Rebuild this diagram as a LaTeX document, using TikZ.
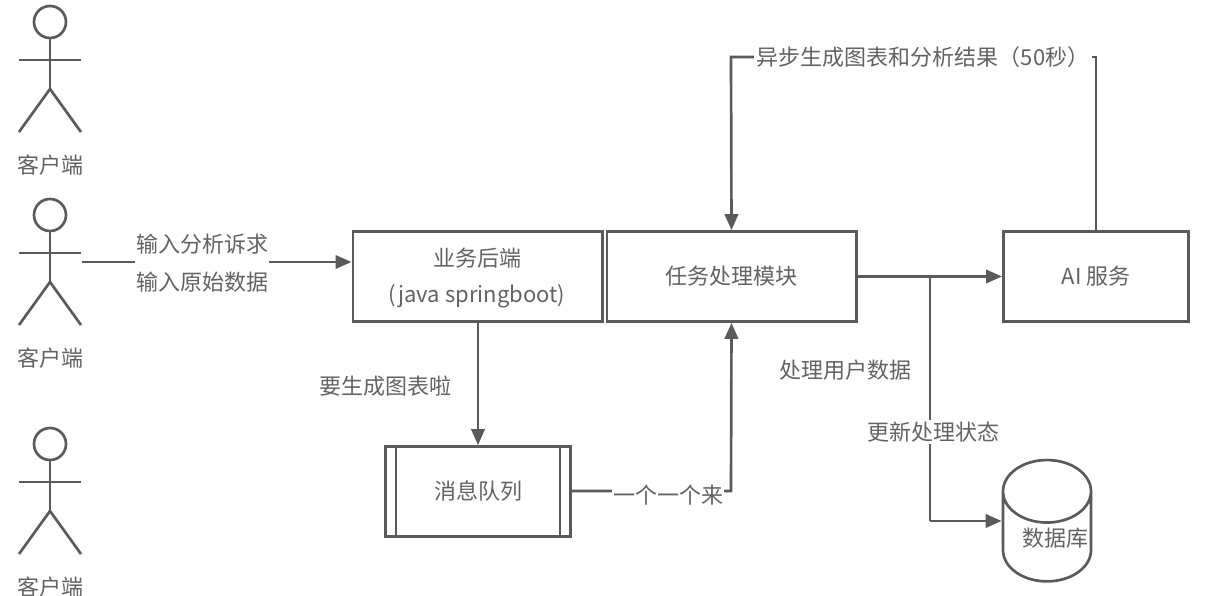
\documentclass[tikz,border=0pt]{standalone}
\usepackage{fontspec}
\setmainfont{Noto Sans CJK SC}
\usetikzlibrary{positioning,shapes.geometric,arrows.meta}
\definecolor{linegray}{HTML}{5A5A5A}
\definecolor{textgray}{HTML}{626262}
\tikzset{
  lbl/.style={font=\fontsize{16.5pt}{20pt}\selectfont,text=textgray,inner sep=1pt,align=center},
  box/.style={lbl,draw=linegray,line width=2pt,inner sep=0pt},
  conn/.style={draw=linegray,line width=2pt},
  arrow/.style={conn,-{Triangle[length=12pt,width=10pt]}}
}
\begin{document}
\begin{tikzpicture}[x=0.75pt,y=-0.75pt]
  \useasboundingbox (0,0) rectangle (1208,596);

  % клиенты
  \foreach \Ay/\Aname in {22/clientA,215/clientB,444/clientC} {
    \draw [conn] (50,\Ay) circle [radius=12pt];
    \draw [conn] (50,\Ay+16) -- (50,\Ay+67);
    \draw [conn] (19,\Ay+38) -- (81,\Ay+38);
    \draw [conn] (19,\Ay+110) -- (50,\Ay+67) -- (81,\Ay+110);
    \node [lbl] (\Aname) at (50,\Ay+143) {客户端};
  }
  \coordinate (hand) at (82,262);

  % блоки
  \node [box,minimum width=187pt,minimum height=67.5pt] (backend) at (477.5,276.5) {};
  \node [lbl] (backendtop) at (477,258) {业务后端};
  \node [lbl] (backendsub) at (477,296) {(java springboot)};
  \node [box,minimum width=187pt,minimum height=67.5pt] (worker) at (731.5,276.5) {任务处理模块};
  \node [box,minimum width=139pt,minimum height=67.5pt] (ai) at (1096,276.5) {AI 服务};
  \node [box,minimum width=139pt,minimum height=67.5pt] (queue) at (478,491.5) {消息队列};
  \draw [conn] (queue.north west) ++(12,0) -- ++(0,90);
  \draw [conn] (queue.north east) ++(-12,0) -- ++(0,90);
  \node [cylinder,shape border rotate=90,aspect=0.75,draw=linegray,line width=2pt,minimum width=66pt,minimum height=91pt,lbl,inner sep=0pt] (db) at (1047,537) {\hspace*{13pt}\raisebox{-16pt}{数据库}};

  % связи
  \draw [arrow] (hand) -- (backend.west |- hand);
  \node [lbl,fill=white,inner xsep=1pt,inner ysep=0pt] (request) at (202,263) {输入分析诉求\\[9pt]输入原始数据};

  \draw [arrow] (backend.south) -- (backend.south -| queue.north) -- (queue.north);
  \node [lbl] (notice) at (385,386) {要生成图表啦};

  \coordinate (queueturn) at (731,491);
  \draw [arrow] (queue.east |- queueturn) -- (queueturn) -- (worker.south);
  \node [lbl,fill=white] (oneone) at (668,495) {一个一个来};

  \draw [arrow] (worker.east) -- (ai.west);
  \coordinate (branch) at (930,277);
  \coordinate (dbturn) at (930,521);
  \draw [conn] (branch) -- (dbturn);
  \draw [arrow] (dbturn) -- (db.west |- dbturn);
  \node [lbl] (procdata) at (845,370) {处理用户数据};
  \node [lbl,fill=white] (state) at (933,432) {更新处理状态};

  \node [lbl,fill=white,inner xsep=2pt] (async) at (923,57) {异步生成图表和分析结果（50秒）};
  \coordinate (topleft) at (731,57);
  \coordinate (topright) at (1096,57);
  \draw [conn] (ai.north) -- (topright) -- (async.east);
  \draw [arrow] (async.west) -- (topleft) -- (worker.north);
\end{tikzpicture}
\end{document}
